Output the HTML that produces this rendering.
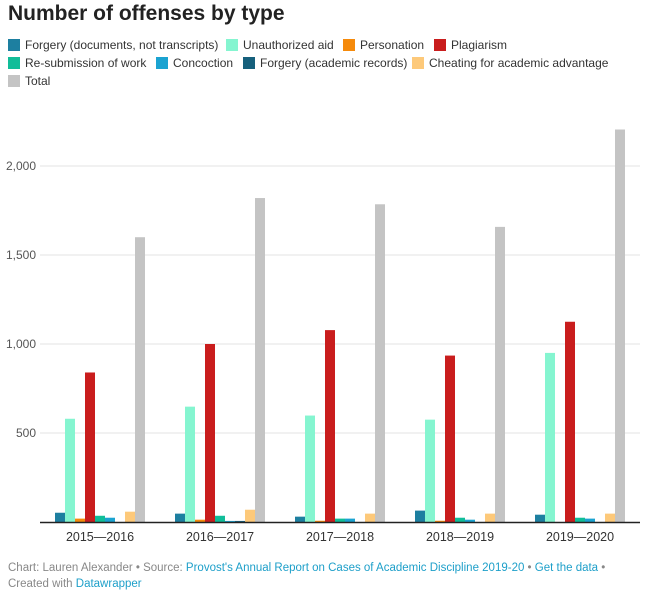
<!DOCTYPE html>
<html><head><meta charset="utf-8"><style>
body{margin:0;background:#fff;font-family:"Liberation Sans",sans-serif;width:647px;height:592px;overflow:hidden;position:relative}
#title{position:absolute;left:8px;top:2px;font-size:21px;font-weight:bold;color:#222}
.leg{position:absolute;font-size:12px;color:#333;white-space:nowrap}
.leg i{display:inline-block;width:12px;height:12px;vertical-align:-2px;margin-right:5px}
#foot{position:absolute;left:8px;top:560px;font-size:11.5px;color:#888;line-height:16px}
#foot a{color:#1d9fc9;text-decoration:none}
</style></head><body>
<div id="title">Number of offenses by type</div>
<div id="legend"></div>
<svg id="chart" width="647" height="592" style="position:absolute;left:0;top:0"></svg>
<div id="foot">Chart: Lauren Alexander • Source: <a>Provost's Annual Report on Cases of Academic Discipline 2019-20</a> • <a>Get the data</a> •<br>Created with <a>Datawrapper</a></div>
<script>
const categories=["2015\u20142016","2016\u20142017","2017\u20142018","2018\u20142019","2019\u20142020"];
const seriesNames=["Forgery (documents, not transcripts)","Unauthorized aid","Personation","Plagiarism","Re-submission of work","Concoction","Forgery (academic records)","Cheating for academic advantage","Total"];
const seriesColors=["#1d7fa0","#85f5d0","#f58a0b","#c91d1d","#11bd99","#1ba3d1","#16607c","#fdc97a","#c4c4c4"];
const forgeryDocs=[52,47,30,64,41];
const unauthorizedAid=[580,648,598,575,950];
const personation=[19,13,7,7,0];
const plagiarism=[840,1000,1078,935,1125];
const resubmission=[35,35,19,24,24];
const concoction=[24,6,19,13,19];
const forgeryRecords=[0,6,0,0,0];
const cheating=[58,69,47,47,47];
const total=[1600,1820,1785,1658,2205];
const yTicks=[0,500,1000,1500,2000];
const yTickLabels=["","500","1,000","1,500","2,000"];
const series=[forgeryDocs,unauthorizedAid,personation,plagiarism,resubmission,concoction,forgeryRecords,cheating,total];

const NS="http://www.w3.org/2000/svg";
const svg=document.getElementById('chart');
const x0=40,x1=640,yBase=522,pxPer=89/500;
function y(v){return yBase-v*pxPer;}
function gx(i){return 55+i*120;}
function mk(t,a){const e=document.createElementNS(NS,t);for(const k in a)e.setAttribute(k,a[k]);svg.appendChild(e);return e;}
yTicks.forEach((t,i)=>{
  if(t>0){const l=mk('line',{x1:x0,x2:x1,y1:y(t),y2:y(t),stroke:'#e3e3e3','stroke-width':1});
  
  }
  const tx=mk('text',{x:36,y:y(t)+4,'text-anchor':'end','font-size':12,fill:'#555'});
  tx.textContent=yTickLabels[i];
  
  
});
categories.forEach((c,i)=>{
  series.forEach((s,j)=>{
    const v=s[i];
    const r=mk('rect',{x:gx(i)+j*10,y:y(v),width:10,height:v*pxPer,fill:seriesColors[j]});
    
    
  });
  const t=mk('text',{x:gx(i)+45,y:541,'text-anchor':'middle','font-size':12.5,fill:'#333'});
  t.textContent=c;
  
  
});
const ax=mk('line',{x1:x0,x2:x1,y1:yBase+0.5,y2:yBase+0.5,stroke:'#222','stroke-width':1.5});



const legPos=[[8,38],[226,38],[343,38],[434,38],[8,56],[156,56],[243,56],[412,56],[8,74]];
const lg=document.getElementById('legend');
seriesNames.forEach((n,j)=>{
  const d=document.createElement('div');
  d.className='leg';
  d.style.left=legPos[j][0]+'px';d.style.top=legPos[j][1]+'px';
  d.innerHTML='<i style="background:'+seriesColors[j]+'"></i>'+n;
  
  
  lg.appendChild(d);
});
</script>
</body></html>
